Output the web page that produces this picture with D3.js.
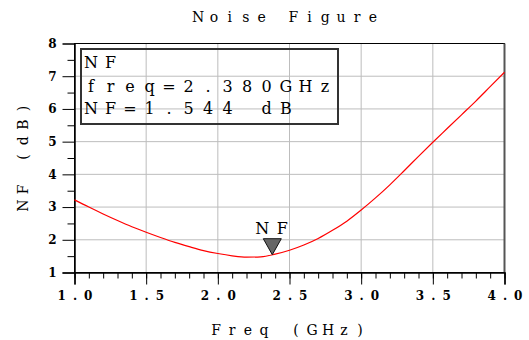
<!DOCTYPE html>
<html>
<head>
<meta charset="utf-8">
<script src="https://cdn.jsdelivr.net/npm/d3@7"></script>
<style>
  body { margin: 0; background: #fff; }
  text { font-family: "DejaVu Serif", serif; fill: #000; }
</style>
</head>
<body>
<svg id="chart" width="529" height="340"></svg>
<script>
// Data
var freq = [1.0, 1.1, 1.2, 1.3, 1.4, 1.5, 1.6, 1.7, 1.8, 1.9, 2.0, 2.1, 2.2, 2.3, 2.4, 2.5,
            2.6, 2.7, 2.8, 2.9, 3.0, 3.1, 3.2, 3.3, 3.4, 3.5, 3.6, 3.7, 3.8, 3.9, 4.0];
var nf = [3.22, 3.00, 2.79, 2.59, 2.40, 2.23, 2.07, 1.92, 1.79, 1.67, 1.58, 1.51, 1.47, 1.48, 1.56, 1.68,
          1.84, 2.04, 2.29, 2.57, 2.91, 3.28, 3.68, 4.11, 4.55, 4.98, 5.40, 5.82, 6.24, 6.68, 7.12];
var xTicks = [1.0, 1.5, 2.0, 2.5, 3.0, 3.5, 4.0];
var yTicks = [1, 2, 3, 4, 5, 6, 7, 8];
var marker = { freq: 2.380, nf: 1.544 };
var legendLines = ["NF", "freq=2.380GHz", "NF=1.544 dB"];

var svg = d3.select("#chart");
var x = d3.scaleLinear().domain([1, 4]).range([74.5, 504.5]);
var y = d3.scaleLinear().domain([1, 8]).range([272.5, 43.5]);

// fixed pitch: each character gets its own centre, like the original plot font
function pitchX(str, cx, pitch) {
  var n = str.length;
  return d3.range(n).map(function(i) { return (cx + (i - (n - 1) / 2) * pitch).toFixed(1); }).join(" ");
}

// grid
svg.append("g").selectAll("line")
  .data(xTicks.slice(1, -1))
  .enter().append("line")
  .attr("x1", function(d) { return x(d); }).attr("x2", function(d) { return x(d); })
  .attr("y1", y(8)).attr("y2", y(1))
  .attr("stroke", "#bdbdbd");
svg.append("g").selectAll("line")
  .data(yTicks.slice(1, -1))
  .enter().append("line")
  .attr("x1", x(1)).attr("x2", x(4))
  .attr("y1", function(d) { return y(d); }).attr("y2", function(d) { return y(d); })
  .attr("stroke", "#bdbdbd");

// frame
svg.append("rect")
  .attr("x", x(1)).attr("y", y(8))
  .attr("width", x(4) - x(1)).attr("height", y(1) - y(8))
  .attr("fill", "none").attr("stroke", "#000");
svg.append("line")
  .attr("x1", x(4)).attr("x2", x(4)).attr("y1", y(8)).attr("y2", y(1))
  .attr("stroke", "#555").attr("stroke-width", 2);

// axes: minor ticks first, then major with labels
var minorX = d3.range(10, 41).map(function(d) { return d / 10; });
svg.append("g").attr("transform", "translate(0," + y(1) + ")")
  .call(d3.axisBottom(x).tickValues(minorX).tickSize(6).tickFormat(""))
  .call(function(g) { g.select(".domain").remove(); });
var gx = svg.append("g").attr("transform", "translate(0," + y(1) + ")")
  .call(d3.axisBottom(x).tickValues(xTicks).tickSize(12).tickPadding(7).tickFormat(d3.format(".1f")));
gx.select(".domain").attr("stroke-width", 1.5);
gx.selectAll("text")
  .attr("font-family", "'Liberation Sans', sans-serif")
  .attr("font-size", 12).attr("font-weight", "bold")
  .attr("x", function(d) { return pitchX(d3.format(".1f")(d), 0, 13.3); });

var minorY = d3.range(1, 8).map(function(d) { return d + 0.5; });
svg.append("g").attr("transform", "translate(" + x(1) + ",0)")
  .call(d3.axisLeft(y).tickValues(minorY).tickSize(7).tickFormat(""))
  .call(function(g) { g.select(".domain").remove(); });
var gy = svg.append("g").attr("transform", "translate(" + x(1) + ",0)")
  .call(d3.axisLeft(y).tickValues(yTicks).tickSize(12).tickPadding(6).tickFormat(d3.format("d")));
gy.select(".domain").attr("stroke-width", 1.5);
gy.selectAll("text")
  .attr("font-family", "'Liberation Sans', sans-serif")
  .attr("font-size", 12).attr("font-weight", "bold");
gy.selectAll(".tick").filter(function(d) { return d === 8; }).select("line").remove();

// curve
var line = d3.line()
  .x(function(d, i) { return x(freq[i]); })
  .y(function(d) { return y(d); })
  .curve(d3.curveMonotoneX);
svg.append("path").datum(nf)
  .attr("d", line)
  .attr("fill", "none").attr("stroke", "#ff0000").attr("stroke-width", 1.2);

// marker
var mx = x(marker.freq), my = y(marker.nf);
svg.append("path")
  .attr("d", "M" + mx + "," + my + "L" + (mx - 9) + "," + (my - 16) + "L" + (mx + 9) + "," + (my - 16) + "Z")
  .attr("fill", "#666").attr("stroke", "#111").attr("stroke-width", 1);
svg.append("text")
  .attr("x", pitchX("NF", mx, 20)).attr("y", my - 21)
  .attr("text-anchor", "middle")
  .attr("font-size", 16)
  .text("NF");

// legend box
svg.append("rect")
  .attr("x", 81).attr("y", 49).attr("width", 257).attr("height", 75)
  .attr("fill", "none").attr("stroke", "#333").attr("stroke-width", 2);
svg.append("g").selectAll("text")
  .data(legendLines)
  .enter().append("text")
  .attr("x", function(d) { return pitchX(d, 91 + (d.length - 1) * 19.5 / 2, 19.5); })
  .attr("y", function(d, i) { return [68, 92, 114][i]; })
  .attr("text-anchor", "middle")
  .attr("font-size", 16)
  .text(function(d) { return d; });

// titles
svg.append("text")
  .attr("x", pitchX("Noise Figure", 285.5, 15.9)).attr("y", 22)
  .attr("text-anchor", "middle")
  .attr("font-size", 14)
  .text("Noise Figure");
svg.append("text")
  .attr("x", pitchX("Freq (GHz)", 288, 16)).attr("y", 335)
  .attr("text-anchor", "middle")
  .attr("font-size", 14)
  .text("Freq (GHz)");
svg.append("text")
  .attr("transform", "rotate(-90)")
  .attr("x", pitchX("NF (dB)", -157, 16.2)).attr("y", 28)
  .attr("text-anchor", "middle")
  .attr("font-size", 14)
  .text("NF (dB)");
</script>
</body>
</html>
